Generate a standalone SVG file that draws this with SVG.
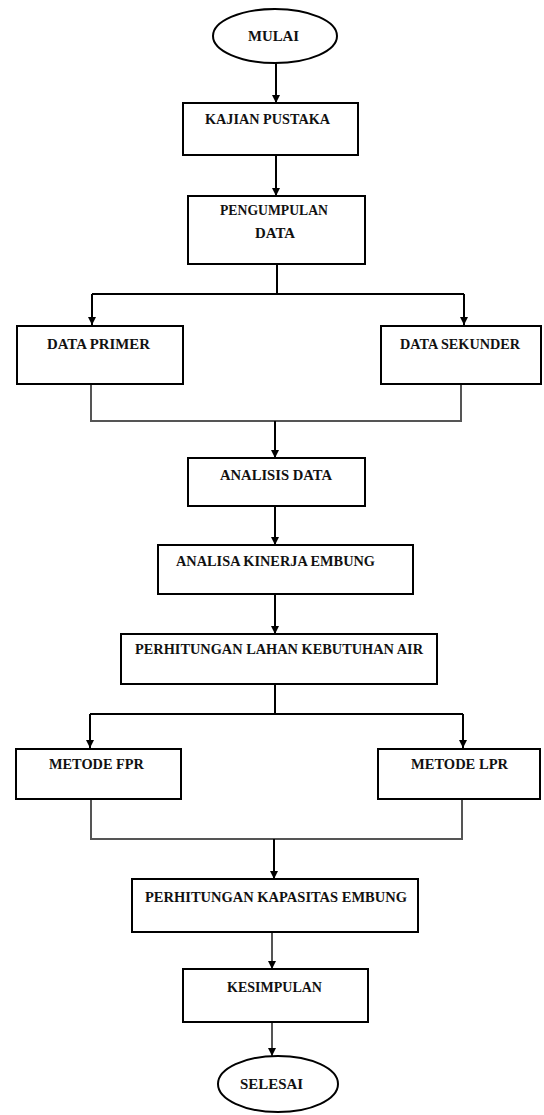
<svg xmlns="http://www.w3.org/2000/svg" width="544" height="1115" viewBox="0 0 544 1115">
<style>
.box{fill:#fff;stroke:#000;stroke-width:2}
.term{fill:#fff;stroke:#000;stroke-width:2}
.lbl{font-family:"Liberation Serif","Times New Roman",serif;font-weight:bold;font-size:14px;fill:#111}
.ln{fill:none;stroke:#000;stroke-width:2}
.gl{fill:none;stroke:#555;stroke-width:2}
</style>
<defs>
<marker id="ah" viewBox="0 0 10 10" refX="10" refY="5" markerWidth="4.5" markerHeight="4" orient="auto" markerUnits="strokeWidth">
<path d="M0,0 L10,5 L0,10 z" fill="#000"/>
</marker>
</defs>
<rect width="544" height="1115" fill="#fff"/>
<g id="connectors">
<path class="ln" d="M276,63 V103" marker-end="url(#ah)"/>
<path class="ln" d="M276,155 V196" marker-end="url(#ah)"/>
<path class="ln" d="M277,264 V294"/>
<path class="ln" d="M92,294 H464"/>
<path class="ln" d="M92,294 V325" marker-end="url(#ah)"/>
<path class="ln" d="M464,294 V325" marker-end="url(#ah)"/>
<path class="gl" d="M91,384 V421 H461 V384"/>
<path class="ln" d="M275,421 V458" marker-end="url(#ah)"/>
<path class="ln" d="M275,506 V545" marker-end="url(#ah)"/>
<path class="ln" d="M275,594 V634" marker-end="url(#ah)"/>
<path class="ln" d="M275,684 V714"/>
<path class="ln" d="M90,714 H463"/>
<path class="ln" d="M90,714 V748" marker-end="url(#ah)"/>
<path class="ln" d="M463,714 V748" marker-end="url(#ah)"/>
<path class="gl" d="M91,799 V839 H462 V799"/>
<path class="ln" d="M274,839 V879" marker-end="url(#ah)"/>
<path class="gl" d="M272,932 V969" marker-end="url(#ah)"/>
<path class="gl" d="M272,1022 V1056" marker-end="url(#ah)"/>
</g>
<g id="mulai">
<ellipse class="term" cx="275" cy="36" rx="62" ry="27"/>
<text class="lbl" x="248" y="41" textLength="51" lengthAdjust="spacingAndGlyphs">MULAI</text>
</g>
<g id="kajian">
<rect class="box" x="183" y="103" width="175" height="52"/>
<text class="lbl" x="205" y="124" textLength="125" lengthAdjust="spacingAndGlyphs">KAJIAN PUSTAKA</text>
</g>
<g id="pengumpulan">
<rect class="box" x="188" y="196" width="177" height="68"/>
<text class="lbl" x="220" y="215" textLength="108" lengthAdjust="spacingAndGlyphs">PENGUMPULAN</text>
<text class="lbl" x="255" y="238" textLength="40" lengthAdjust="spacingAndGlyphs">DATA</text>
</g>
<g id="primer">
<rect class="box" x="17" y="326" width="166" height="58"/>
<text class="lbl" x="47" y="349" textLength="103" lengthAdjust="spacingAndGlyphs">DATA PRIMER</text>
</g>
<g id="sekunder">
<rect class="box" x="381" y="326" width="160" height="58"/>
<text class="lbl" x="400" y="349" textLength="120" lengthAdjust="spacingAndGlyphs">DATA SEKUNDER</text>
</g>
<g id="analisis">
<rect class="box" x="188" y="458" width="177" height="48"/>
<text class="lbl" x="220" y="480" textLength="112" lengthAdjust="spacingAndGlyphs">ANALISIS DATA</text>
</g>
<g id="kinerja">
<rect class="box" x="158" y="545" width="255" height="49"/>
<text class="lbl" x="176" y="566" textLength="199" lengthAdjust="spacingAndGlyphs">ANALISA KINERJA EMBUNG</text>
</g>
<g id="lahan">
<rect class="box" x="121" y="634" width="316" height="50"/>
<text class="lbl" x="135" y="654" textLength="288" lengthAdjust="spacingAndGlyphs">PERHITUNGAN LAHAN KEBUTUHAN AIR</text>
</g>
<g id="fpr">
<rect class="box" x="16" y="749" width="165" height="50"/>
<text class="lbl" x="49" y="769" textLength="95" lengthAdjust="spacingAndGlyphs">METODE FPR</text>
</g>
<g id="lpr">
<rect class="box" x="378" y="749" width="162" height="50"/>
<text class="lbl" x="411" y="769" textLength="97" lengthAdjust="spacingAndGlyphs">METODE LPR</text>
</g>
<g id="kapasitas">
<rect class="box" x="132" y="879" width="286" height="53"/>
<text class="lbl" x="145" y="902" textLength="262" lengthAdjust="spacingAndGlyphs">PERHITUNGAN KAPASITAS EMBUNG</text>
</g>
<g id="kesimpulan">
<rect class="box" x="183" y="969" width="185" height="53"/>
<text class="lbl" x="227" y="992" textLength="95" lengthAdjust="spacingAndGlyphs">KESIMPULAN</text>
</g>
<g id="selesai">
<ellipse class="term" cx="278" cy="1084" rx="60" ry="28"/>
<text class="lbl" x="240" y="1089" textLength="63" lengthAdjust="spacingAndGlyphs">SELESAI</text>
</g>
</svg>
